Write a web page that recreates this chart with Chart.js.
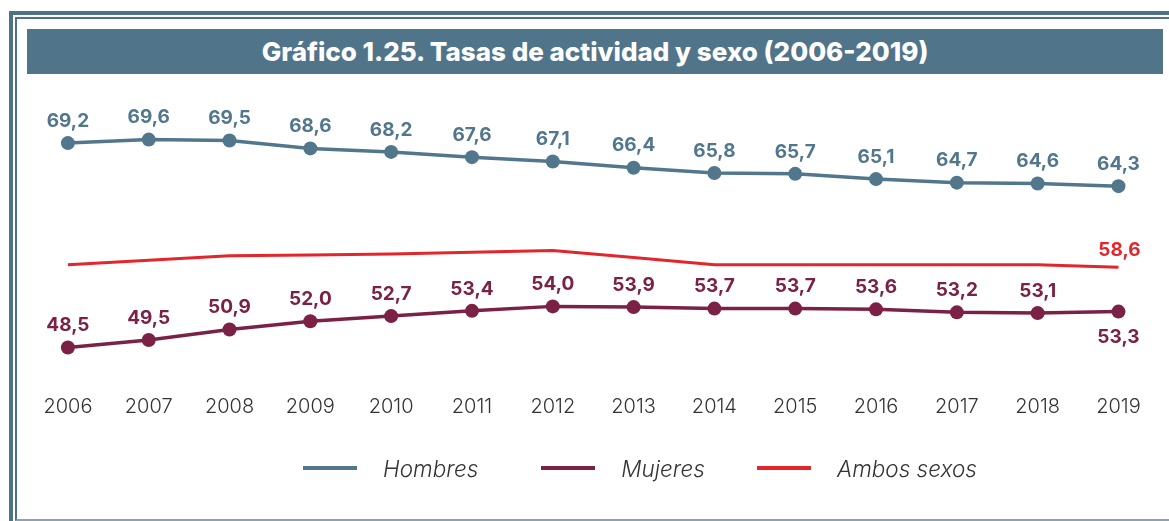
<!DOCTYPE html>
<html lang="es">
<head>
<meta charset="utf-8">
<script src="https://cdn.jsdelivr.net/npm/chart.js@4.4.1/dist/chart.umd.min.js"></script>
<style>
  html, body { margin: 0; padding: 0; background: #fff; }
  body { width: 1169px; height: 521px; position: relative; overflow: hidden; font-family: 'Inter', sans-serif; }
  .marco-ext { position: absolute; left: 9px; top: 11px; width: 1300px; height: 600px;
    border-left: 4px solid #4e7288; border-top: 4px solid #4e7288; }
  .marco-int { position: absolute; left: 15px; top: 17px; width: 1300px; height: 500px;
    border-left: 2px solid #4e7288; border-top: 2px solid #4e7288; border-bottom: 2px solid #8da2b0; }
  .titulo { position: absolute; left: 27px; top: 29px; width: 1136px; height: 45px;
    background: #507489; color: #fff; font-weight: 800; font-size: 26px; line-height: 46px;
    text-align: center; }
  #grafico { position: absolute; left: 0; top: 0; }
  #leyenda { position: absolute; left: 303px; top: 454px; height: 28px;
    display: flex; align-items: center; }
  .item { display: flex; align-items: center; margin-right: 63px; }
  .item:nth-child(2) { margin-right: 52px; }
  .linea { width: 54px; height: 4px; margin-right: 26px; }
  .texto { font-style: italic; font-weight: 300; font-size: 22.5px; color: #333; }
</style>
</head>
<body>
<div class="marco-ext"></div>
<div class="marco-int"></div>
<div class="titulo">Gráfico 1.25. Tasas de actividad y sexo (2006-2019)</div>
<canvas id="grafico" width="1169" height="521"></canvas>
<div id="leyenda"></div>
<script>
// datos
const anios = ['2006', '2007', '2008', '2009', '2010', '2011', '2012', '2013', '2014', '2015', '2016', '2017', '2018', '2019'];
const hombres = [69.2, 69.6, 69.5, 68.6, 68.2, 67.6, 67.1, 66.4, 65.8, 65.7, 65.1, 64.7, 64.6, 64.3];
const mujeres = [48.5, 49.5, 50.9, 52.0, 52.7, 53.4, 54.0, 53.9, 53.7, 53.7, 53.6, 53.2, 53.1, 53.3];
const ambos = [58.9, 59.4, 59.9, 60.0, 60.1, 60.3, 60.5, 59.7, 58.9, 58.9, 58.9, 58.9, 58.9, 58.6];

const colHombres = '#52778c';
const colMujeres = '#7b2146';
const colAmbos = '#e2262c';

const fmt = v => v.toFixed(1).replace('.', ',');

// etiquetas de valor sobre los puntos
const etiquetas = {
    id: 'etiquetas',
    afterDatasetsDraw(chart) {
        const ctx = chart.ctx;
        ctx.save();
        ctx.font = "700 19px 'Inter', sans-serif";
        ctx.textAlign = 'center';
        ctx.textBaseline = 'middle';
        chart.data.datasets.forEach((ds, i) => {
            const meta = chart.getDatasetMeta(i);
            meta.data.forEach((pt, j) => {
                let dy = -22;
                if (ds.etiqueta === 'ultima') {
                    if (j !== ds.data.length - 1) return;
                    dy = -17;
                }
                if (ds.etiqueta === 'mujeres' && j === ds.data.length - 1) dy = 26;
                ctx.fillStyle = ds.borderColor;
                ctx.fillText(fmt(ds.data[j]), pt.x + (ds.etiqueta === 'ultima' ? 1 : 0), pt.y + dy);
            });
        });
        ctx.restore();
    }
};

// leyenda en html a partir de los datasets
const leyendaHtml = {
    id: 'leyendaHtml',
    afterUpdate(chart) {
        const cont = document.getElementById('leyenda');
        cont.innerHTML = '';
        chart.data.datasets.forEach(ds => {
            const item = document.createElement('div');
            item.className = 'item';
            const l = document.createElement('div');
            l.className = 'linea';
            l.style.background = ds.borderColor;
            const t = document.createElement('span');
            t.className = 'texto';
            t.textContent = ds.label;
            item.appendChild(l);
            item.appendChild(t);
            cont.appendChild(item);
        });
    }
};

new Chart(document.getElementById('grafico'), {
    type: 'line',
    data: {
        labels: anios,
        datasets: [
            {
                label: 'Hombres',
                data: hombres,
                yAxisID: 'yH',
                borderColor: colHombres,
                backgroundColor: colHombres,
                borderWidth: 3.5,
                pointRadius: 7,
                pointBackgroundColor: colHombres,
                pointBorderWidth: 0,
                etiqueta: 'todas'
            },
            {
                label: 'Mujeres',
                data: mujeres,
                yAxisID: 'yM',
                borderColor: colMujeres,
                backgroundColor: colMujeres,
                borderWidth: 3.5,
                pointRadius: 7,
                pointBackgroundColor: colMujeres,
                pointBorderWidth: 0,
                etiqueta: 'mujeres'
            },
            {
                label: 'Ambos sexos',
                data: ambos,
                yAxisID: 'yA',
                borderColor: colAmbos,
                backgroundColor: colAmbos,
                borderWidth: 3,
                pointRadius: 0,
                etiqueta: 'ultima'
            }
        ]
    },
    options: {
        responsive: false,
        animation: false,
        layout: { padding: { top: 103, left: 27.5, right: 7.5, bottom: 74 } },
        plugins: {
            legend: { display: false },
            tooltip: { enabled: false }
        },
        scales: {
            x: {
                offset: true,
                grid: { display: false, drawTicks: false },
                border: { display: false },
                ticks: {
                    padding: 28,
                    color: '#333',
                    font: { family: "'Inter', sans-serif", size: 20, weight: 300 }
                }
            },
            yH: { display: false, min: 43.7, max: 73.77 },
            yM: { display: false, min: 45.88, max: 81.24 },
            yA: { display: false, min: 47.24, max: 77.31 }
        }
    },
    plugins: [etiquetas, leyendaHtml]
});
</script>
</body>
</html>
